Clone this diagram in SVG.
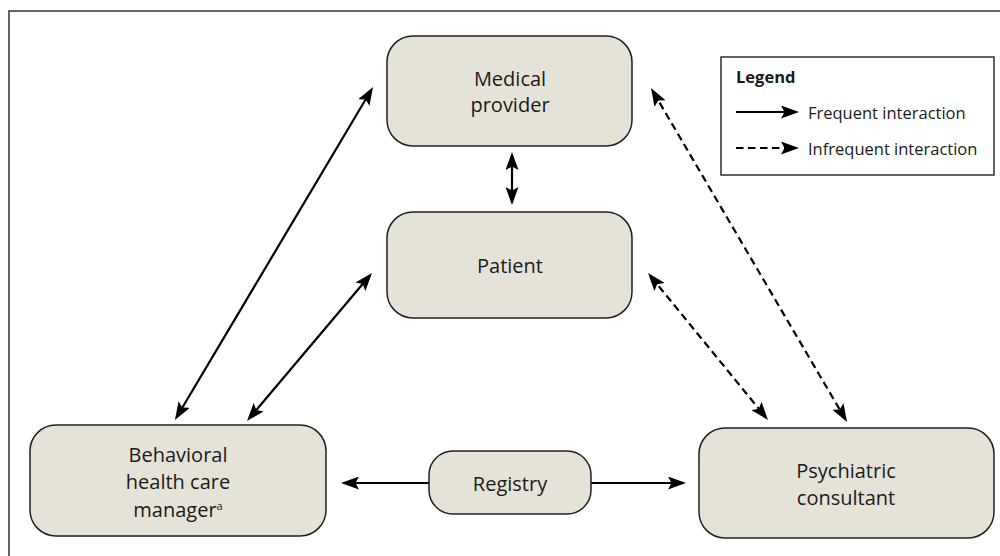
<svg xmlns="http://www.w3.org/2000/svg" width="1000" height="556" viewBox="0 0 1000 556">
<style>
.node rect{fill:#e5e3d8;stroke:#231f20;stroke-width:1.5}
.node text{font-family:"Open Sans","Noto Sans",sans-serif;font-size:20px;fill:#1a1a1a;text-anchor:middle}
.conn{stroke:#000;stroke-width:2.2;fill:none}
.dash{stroke-dasharray:7.5 4.5}
.leg{font-family:"Open Sans","Noto Sans",sans-serif;font-size:16.5px;fill:#1a1a1a}
</style>
<defs>
<marker id="ah" markerUnits="userSpaceOnUse" viewBox="0 0 18 13" markerWidth="18" markerHeight="13" refX="13" refY="6.5" orient="auto-start-reverse">
<path d="M0,0 L18,6.5 L0,13 L3.5,6.5 z" fill="#000" stroke="none"/>
</marker>
</defs>
<rect width="1000" height="556" fill="#fff"/>
<path d="M9,556 V11 H1000" fill="none" stroke="#333" stroke-width="1.5"/>
<g id="connectors">
<line class="conn" x1="177.5" y1="415.7" x2="370.5" y2="91.3" marker-start="url(#ah)" marker-end="url(#ah)"/>
<line class="conn" x1="250.2" y1="417.2" x2="368.8" y2="276.8" marker-start="url(#ah)" marker-end="url(#ah)"/>
<line class="conn" x1="512" y1="157" x2="512" y2="200" marker-start="url(#ah)" marker-end="url(#ah)"/>
<line class="conn" x1="429" y1="483" x2="346" y2="483" marker-end="url(#ah)"/>
<line class="conn" x1="591" y1="483" x2="681" y2="483" marker-end="url(#ah)"/>
<line class="conn dash" x1="651.2" y1="276.9" x2="764.8" y2="416.1" marker-start="url(#ah)" marker-end="url(#ah)"/>
<line class="conn dash" x1="653.5" y1="92.3" x2="844.5" y2="417.7" marker-start="url(#ah)" marker-end="url(#ah)"/>
</g>
<g id="medical" class="node">
<rect x="387" y="36" width="245" height="110" rx="26"/>
<text x="510" y="86">Medical</text>
<text x="510" y="112">provider</text>
</g>
<g id="patient" class="node">
<rect x="387" y="212" width="245" height="106" rx="26"/>
<text x="510" y="273">Patient</text>
</g>
<g id="bhcm" class="node">
<rect x="30" y="425" width="296" height="111" rx="26"/>
<text x="178" y="462">Behavioral</text>
<text x="178" y="489">health care</text>
<text x="178" y="517">manager<tspan font-size="11" dy="-7">a</tspan></text>
</g>
<g id="registry" class="node">
<rect x="429" y="451" width="162" height="63" rx="24"/>
<text x="510" y="491">Registry</text>
</g>
<g id="psych" class="node">
<rect x="699" y="428" width="295" height="110" rx="26"/>
<text x="846" y="478">Psychiatric</text>
<text x="846" y="505">consultant</text>
</g>
<g id="legend">
<rect x="721" y="57" width="273" height="118" fill="#fff" stroke="#231f20" stroke-width="1.4"/>
<text class="leg" x="736" y="83" font-weight="bold" font-size="15">Legend</text>
<line class="conn" x1="736" y1="112" x2="794" y2="112" marker-end="url(#ah)"/>
<text class="leg" x="808" y="119">Frequent interaction</text>
<line class="conn dash" x1="736" y1="148" x2="794" y2="148" marker-end="url(#ah)"/>
<text class="leg" x="808" y="155">Infrequent interaction</text>
</g>
</svg>
